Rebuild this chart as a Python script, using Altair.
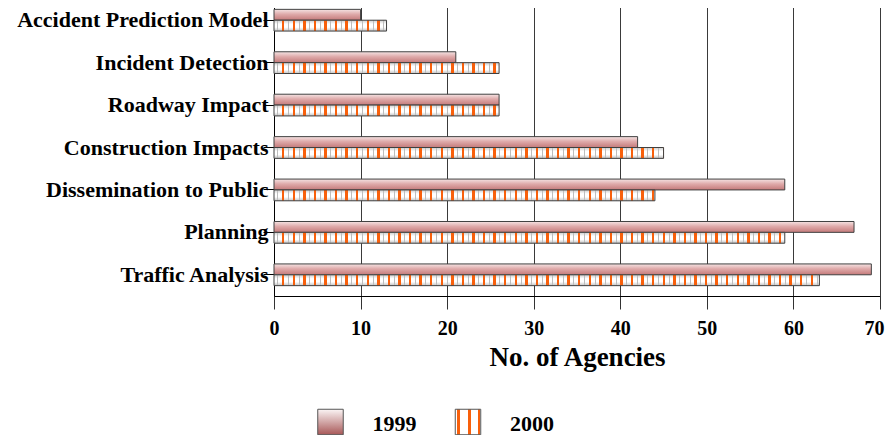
import altair as alt
import pandas as pd

# ---------------- data ----------------
categories = ["Accident Prediction Model", "Incident Detection", "Roadway Impact",
              "Construction Impacts", "Dissemination to Public", "Planning", "Traffic Analysis"]
series = ["1999", "2000"]
values_1999 = [10, 21, 26, 42, 59, 67, 69]
values_2000 = [13, 26, 26, 45, 44, 59, 63]
x_ticks = [0, 10, 20, 30, 40, 50, 60, 70]
x_title = "No. of Agencies"

rows = []
for c, a, b in zip(categories, values_1999, values_2000):
    rows.append({"category": c, "series": "1999", "value": a})
    rows.append({"category": c, "series": "2000", "value": b})
df = pd.DataFrame(rows)
legend_df = pd.DataFrame({"series": series})

# ---------------- style ----------------
W, H = 606, 297
XMAX = 70
SERIF = "Liberation Serif"
ORANGE = "#f8600c"
GRAY = "#bdbdbd"
CLEAR = "rgba(255,255,255,0)"
PX_PER_UNIT = W / XMAX
PERIOD = 10.57
PHASE = -1.3


def grad(stops, vertical):
    g = {"gradient": "linear", "x1": 0, "y1": 0,
         "x2": 0 if vertical else 1, "y2": 1 if vertical else 0,
         "stops": [{"offset": round(o, 5), "color": c} for o, c in stops]}
    return g


def stripe_gradient(v):
    L = v * PX_PER_UNIT
    stops = []

    def band(a, b, col):
        a = max(a, 0.0)
        b = min(b, L)
        if b <= a:
            return
        stops.extend([(a / L, CLEAR), (a / L, col), (b / L, col), (b / L, CLEAR)])

    k = 0
    while True:
        c = PERIOD * k + PHASE
        if c - 1.2 > L:
            break
        band(c - 1.2, c + 1.2, ORANGE)
        band(c + PERIOD / 2 - 0.5, c + PERIOD / 2 + 0.5, GRAY)
        k += 1
    return grad(stops, vertical=False)


fill_1999 = grad([(0, "#f5e4e4"), (0.45, "#dfaaaa"), (1, "#c47a7a")], True)
fill_2000_base = grad([(0, "#cccccc"), (0.35, "#ffffff"), (0.65, "#ffffff"), (1, "#c2c2c2")], True)
legend_fill_1999 = grad([(0, "#fbf5f5"), (1, "#a85858")], True)
legend_fill_2000 = grad([
    (0.08, "#ffffff"), (0.08, ORANGE), (0.17, ORANGE), (0.17, "#ffffff"),
    (0.51, "#ffffff"), (0.51, ORANGE), (0.60, ORANGE), (0.60, "#ffffff"),
    (0.90, "#ffffff"), (0.90, ORANGE), (0.99, ORANGE), (0.99, "#ffffff")], False)

# ---------------- encodings ----------------
x_enc = alt.X("value:Q",
              scale=alt.Scale(domain=[0, XMAX], nice=False, zero=True),
              axis=alt.Axis(values=x_ticks, title=x_title, format="d",
                            labelFont=SERIF, labelFontSize=20, labelFontWeight="bold",
                            labelColor="black", labelPadding=9, labelFlush=False,
                            labelOffset={"condition": {"test": "datum.value == 70", "value": -6},
                                         "value": 0},
                            tickSize=13, tickColor="#333333", domainColor="black",
                            grid=True, gridColor="#3a3a3a", gridOpacity=1, gridWidth=1,
                            titleFont=SERIF, titleFontSize=27, titleFontWeight="bold",
                            titleColor="black", titlePadding=6))
y_enc = alt.Y("category:N", sort=categories,
              scale=alt.Scale(domain=categories, paddingInner=0.488, paddingOuter=0.244),
              axis=alt.Axis(title=None, labelFont=SERIF, labelFontSize=22,
                            labelFontWeight="bold", labelColor="black", labelPadding=-5,
                            labelLimit=400, tickSize=11, tickColor="black",
                            domainColor="black", grid=False))
yoff_enc = alt.YOffset("series:N", sort=series,
                       scale=alt.Scale(domain=series, paddingInner=0, paddingOuter=0))

base = alt.Chart(df).encode(x=x_enc, y=y_enc, yOffset=yoff_enc)

bars_1999 = base.transform_filter(alt.datum.series == "1999").mark_bar(
    fill=fill_1999, stroke="#404040", strokeWidth=1)
bars_2000 = base.transform_filter(alt.datum.series == "2000").mark_bar(
    fill=fill_2000_base, strokeWidth=0)

stripe_layers = []
for cat, v in zip(categories, values_2000):
    stripe_layers.append(
        base.transform_filter((alt.datum.series == "2000") & (alt.datum.category == cat))
        .mark_bar(fill=stripe_gradient(v), stroke="#404040", strokeWidth=1))

main = alt.layer(bars_1999, bars_2000, *stripe_layers)

# ---------------- legend ----------------
leg_x = alt.X("series:N", sort=series,
              scale=alt.Scale(type="point", domain=series, range=[56.5, 194], padding=0),
              axis=None)
leg_base = alt.Chart(legend_df).encode(x=leg_x)
sw_1999 = leg_base.transform_filter(alt.datum.series == "1999").mark_square(
    size=650, fill=legend_fill_1999, stroke="#555555", strokeWidth=1, opacity=1
).encode(y=alt.value(423))
sw_2000 = leg_base.transform_filter(alt.datum.series == "2000").mark_square(
    size=650, fill=legend_fill_2000, stroke="#555555", strokeWidth=1, opacity=1
).encode(y=alt.value(423))
leg_text = leg_base.mark_text(align="left", baseline="middle", dx=42, font=SERIF,
                              fontSize=22, fontWeight="bold", color="black").encode(
    y=alt.value(425), text="series:N")
legend = alt.layer(sw_1999, sw_2000, leg_text)

chart = alt.layer(main, legend).resolve_scale(x="independent").properties(
    width=W, height=H,
    padding={"left": 266, "top": -9, "right": 6, "bottom": 139},
    autosize=alt.AutoSizeParams(type="none"),
).configure_view(stroke=None)

chart.save("out.html", embed_options={"renderer": "svg", "actions": False})
